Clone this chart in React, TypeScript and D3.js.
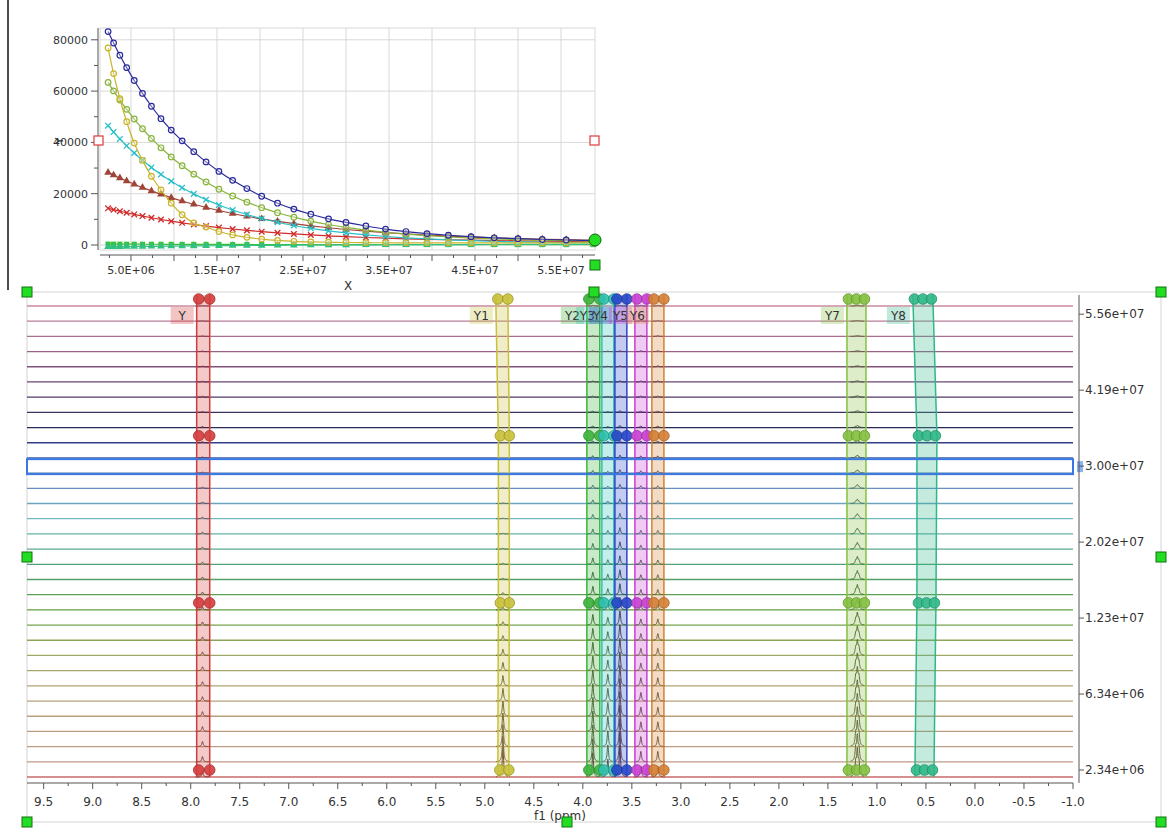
import React from 'react';
import * as d3 from 'd3';

// ---------- DATA ----------
const delays = [2.34e6, 2.98e6, 3.71e6, 4.5e6, 5.38e6, 6.34e6, 7.38e6, 8.49e6, 9.68e6, 10.95e6, 12.3e6, 13.73e6, 15.23e6, 16.82e6, 18.48e6, 20.2e6, 22.04e6, 23.94e6, 25.91e6, 27.97e6, 30.0e6, 32.31e6, 34.6e6, 36.97e6, 39.42e6, 41.9e6, 44.54e6, 47.23e6, 49.99e6, 52.82e6, 55.6e6, 58.74e6];

const rightTickRows = [0, 5, 10, 15, 20, 25, 30];
const rightTickLabels = ['2.34e+06', '6.34e+06', '1.23e+07', '2.02e+07', '3.00e+07', '4.19e+07', '5.56e+07'];

const seriesBlue = [83200, 78760, 73980, 69150, 64140, 59100, 54090, 49230, 44800, 40600, 36400, 32400, 28700, 25200, 22000, 19000, 16300, 14000, 12000, 10200, 8800, 7400, 6200, 5250, 4450, 3800, 3250, 2800, 2450, 2150, 1950, 1750];
const seriesYellow = [76800, 66820, 57020, 48060, 39730, 33000, 26800, 21500, 16300, 11800, 8600, 7000, 5260, 3940, 2980, 2300, 1800, 1450, 1225, 1070, 975, 900, 870, 850, 830, 820, 810, 810, 800, 800, 800, 800];
const seriesYellowGreen = [63400, 60070, 56510, 52880, 49120, 45320, 41560, 37890, 34320, 30890, 27620, 24570, 21730, 19100, 16700, 14550, 12580, 10840, 9320, 7980, 6860, 5810, 4960, 4230, 3620, 3120, 2690, 2340, 2060, 1830, 1660, 1500];
const seriesCyan = [46500, 44020, 41360, 38660, 35870, 33050, 30240, 27520, 24880, 22340, 19930, 17680, 15600, 13650, 11890, 10320, 8870, 7600, 6490, 5510, 4700, 3940, 3320, 2800, 2360, 2000, 1700, 1450, 1250, 1090, 960, 850];
const seriesBrown = [28300, 27250, 26110, 24930, 23680, 22390, 21080, 19760, 18450, 17150, 15870, 14630, 13440, 12290, 11200, 10180, 9210, 8310, 7480, 6720, 6050, 5390, 4810, 4300, 3840, 3440, 3080, 2770, 2490, 2260, 2060, 1880];
const seriesRed = [14300, 13760, 13170, 12570, 11930, 11280, 10610, 9940, 9280, 8630, 8000, 7380, 6790, 6230, 5700, 5200, 4730, 4300, 3910, 3550, 3230, 2920, 2660, 2420, 2220, 2040, 1870, 1740, 1620, 1510, 1430, 1350];
const seriesTeal = [-700, -680, -650, -620, -590, -560, -520, -480, -440, -400, -360, -320, -280, -240, -200, -160, -120, -80, -40, 0, 40, 70, 100, 120, 140, 160, 180, 200, 220, 240, 250, 260];
const seriesGreen = [350, 340, 330, 320, 310, 300, 290, 280, 270, 260, 250, 240, 230, 220, 210, 200, 200, 190, 190, 180, 180, 170, 170, 160, 160, 150, 150, 150, 140, 140, 140, 140];

const topXTicks = [5e6, 1.5e7, 2.5e7, 3.5e7, 4.5e7, 5.5e7];
const topYTicks = [0, 20000, 40000, 60000, 80000];
const ppmTicks = [9.5, 9.0, 8.5, 8.0, 7.5, 7.0, 6.5, 6.0, 5.5, 5.0, 4.5, 4.0, 3.5, 3.0, 2.5, 2.0, 1.5, 1.0, 0.5, 0.0, -0.5, -1.0];

// integral regions
const bandNames = ['Y', 'Y1', 'Y2', 'Y3', 'Y4', 'Y5', 'Y6', 'Y7', 'Y8'];
const bandColors = ['#d43c3c', '#c8c038', '#3cb43c', '#30c0b0', '#2846c8', '#c840d0', '#d48034', '#84c040', '#30b888'];
const handleRows = [31, 22, 11, 0];
const bandLeft = [
  [7.939, 7.939, 7.939, 7.939],
  [4.888, 4.862, 4.862, 4.867],
  [3.959, 3.959, 3.959, 3.959],
  [3.806, 3.806, 3.806, 3.806],
  [3.673, 3.673, 3.673, 3.673],
  [3.469, 3.469, 3.469, 3.469],
  [3.296, 3.296, 3.296, 3.296],
  [1.306, 1.306, 1.306, 1.306],
  [0.633, 0.592, 0.592, 0.612],
];
const bandRight = [
  [7.806, 7.806, 7.806, 7.806],
  [4.765, 4.75, 4.75, 4.755],
  [3.827, 3.827, 3.827, 3.827],
  [3.684, 3.684, 3.684, 3.684],
  [3.551, 3.551, 3.551, 3.551],
  [3.347, 3.347, 3.347, 3.347],
  [3.173, 3.173, 3.173, 3.173],
  [1.112, 1.112, 1.112, 1.112],
  [0.429, 0.388, 0.398, 0.418],
];
const bandHandleCount = [2, 2, 2, 2, 2, 2, 2, 3, 3];

// peaks in spectra
const peakCenters = [7.88, 4.815, 3.898, 3.745, 3.622, 3.408, 3.235, 1.2, 0.53];
const peakSeries = [seriesRed, seriesYellow, seriesYellowGreen, seriesCyan, seriesBlue, seriesBrown, seriesBrown, seriesYellowGreen, seriesTeal];
const peakOffsets = [[0], [0], [0], [0], [0], [0], [0], [-0.016, 0, 0.016], [0]];
const peakWeights = [[1], [1], [1], [1], [1], [1], [1], [0.55, 1, 0.55], [1]];

const topSeries = [
  { name: 'Y2', values: seriesGreen, color: '#3cc03c', marker: 'square' },
  { name: 'Y8', values: seriesTeal, color: '#30c080', marker: 'triangle' },
  { name: 'Y', values: seriesRed, color: '#d02a2a', marker: 'x' },
  { name: 'Y6', values: seriesBrown, color: '#a04438', marker: 'triangle' },
  { name: 'Y3', values: seriesCyan, color: '#28c0c8', marker: 'x' },
  { name: 'Y7', values: seriesYellowGreen, color: '#88b43c', marker: 'circle' },
  { name: 'Y1', values: seriesYellow, color: '#c8b42a', marker: 'circle' },
  { name: 'Y4', values: seriesBlue, color: '#2a2a9c', marker: 'circle' },
];

const rowColorDomain = [0, 1, 5, 8, 11, 14, 17, 19, 21, 23, 25, 28, 31];
const rowColorRange = ['#c86a6a', '#c09a88', '#b8a078', '#a0a868', '#60a040', '#50a078', '#70b8c0', '#6890c0', '#3858a8', '#2a2a5a', '#503868', '#9a6088', '#c88aa0'];

const FONT = 'DejaVu Sans, Verdana, sans-serif';

function fmtE(v: number) {
  const [m, e] = v.toExponential(1).split('e');
  return `${m}E${e[0]}${e.slice(1).padStart(2, '0')}`;
}

export default function App() {
  // ---------- top (inset) chart ----------
  const tx = d3.scaleLinear().domain([1.4e6, 5.895e7]).range([100, 595]);
  const ty = d3.scaleLinear().domain([-1950, 84600]).range([250, 28]);
  const gridX = d3.range(5e6, 5.6e7, 5e6);
  const minorX = d3.range(2.5e6, 5.9e7, 2.5e6);
  const minorY = d3.range(10000, 80001, 20000);
  const lineGen = d3.line<number>().x((_, i) => tx(delays[i])).y((v) => ty(v)).curve(d3.curveMonotoneX);
  const tri = d3.symbol().type(d3.symbolTriangle).size(26)() as string;
  const sq = d3.symbol().type(d3.symbolSquare).size(26)() as string;

  const marker = (m: string, color: string, x: number, y: number, key: string) => {
    if (m === 'circle')
      return <circle key={key} cx={x} cy={y} r={2.8} fill="white" fillOpacity={0.3} stroke={color} strokeWidth={1.2} />;
    if (m === 'x')
      return (
        <path key={key} d={`M${x - 2.8},${y - 2.8}L${x + 2.8},${y + 2.8}M${x - 2.8},${y + 2.8}L${x + 2.8},${y - 2.8}`} stroke={color} strokeWidth={1.3} />
      );
    if (m === 'triangle') return <path key={key} d={tri} transform={`translate(${x},${y})`} fill={color} />;
    return <path key={key} d={sq} transform={`translate(${x},${y})`} fill={color} />;
  };

  // ---------- main stacked spectra ----------
  const xp = d3.scaleLinear().domain([9.67, -1.0]).range([27, 1073]);
  const rowY = d3.scaleLinear().domain([0, 31]).range([777, 306]);
  const rowColor = d3.scaleLinear<string>().domain(rowColorDomain).range(rowColorRange).interpolate(d3.interpolateRgb);
  const handleOffset = 7;
  const bandTop = rowY(31) - 11;
  const bandBottom = rowY(0);
  const ampScale = 1 / 2600;
  const g = 0.008;
  const peakLine = d3.line<[number, number]>().x((d) => xp(d[0])).y((d) => d[1]);

  const rows = d3.range(delays.length);
  const peakPaths: JSX.Element[] = [];
  rows.forEach((r) => {
    const base = rowY(r);
    const col = d3.color(rowColor(r))!.darker(2.2).formatHex();
    peakCenters.forEach((c, b) => {
      const amp = peakSeries[b][r] * ampScale;
      if (amp < 0.4) return;
      const pts: [number, number][] = d3.range(c - 0.07, c + 0.0701, 0.0015).map((p) => {
        let h = 0;
        peakOffsets[b].forEach((o, k) => {
          const dd = p - c - o;
          h += peakWeights[b][k] * amp * (g * g) / (dd * dd + g * g);
        });
        return [p, base - h];
      });
      peakPaths.push(<path key={`pk${r}-${b}`} d={peakLine(pts) as string} fill="none" stroke={col} strokeWidth={1} />);
    });
  });

  const bandPoly = (b: number) => {
    const left: [number, number][] = [[xp(bandLeft[b][0]), bandTop]];
    handleRows.forEach((hr, k) => left.push([xp(bandLeft[b][k]), rowY(hr) - handleOffset]));
    left.push([xp(bandLeft[b][3]), bandBottom]);
    const right: [number, number][] = [[xp(bandRight[b][0]), bandTop]];
    handleRows.forEach((hr, k) => right.push([xp(bandRight[b][k]), rowY(hr) - handleOffset]));
    right.push([xp(bandRight[b][3]), bandBottom]);
    return { left, right };
  };
  const polyLine = d3.line<[number, number]>();

  const hlRow = 20;
  const handleSq = (x: number, y: number, key: string) => (
    <rect key={key} x={x - 5} y={y - 5} width={10} height={10} fill="#22dd22" stroke="#127012" strokeWidth={1} />
  );

  return (
    <svg width={1167} height={828} style={{ position: 'absolute', left: 0, top: 0, background: 'white' }} fontFamily={FONT}>
      {/* inset border line */}
      <line x1={8} x2={8} y1={0} y2={290} stroke="#111" strokeWidth={1.5} />

      {/* ===== top chart ===== */}
      <rect x={100} y={28} width={495} height={222} fill="white" stroke="#d8d8d8" />
      {gridX.map((v) => (
        <line key={`gx${v}`} x1={tx(v)} x2={tx(v)} y1={28} y2={250} stroke="#d8d8d8" />
      ))}
      {topYTicks.map((v) => (
        <line key={`gy${v}`} x1={100} x2={595} y1={ty(v)} y2={ty(v)} stroke="#d8d8d8" />
      ))}
      <line x1={98} x2={98} y1={28} y2={250} stroke="#555" />
      {topYTicks.map((v) => (
        <g key={`yt${v}`}>
          <line x1={91} x2={98} y1={ty(v)} y2={ty(v)} stroke="#555" />
          <text x={88} y={ty(v)} dy="0.35em" textAnchor="end" fontSize={11} fill="#333">{v}</text>
        </g>
      ))}
      {minorY.map((v) => (
        <line key={`ym${v}`} x1={94} x2={98} y1={ty(v)} y2={ty(v)} stroke="#555" />
      ))}
      <text transform="translate(63,141) rotate(-90)" textAnchor="middle" fontSize={11} fill="#333">Y</text>
      <line x1={100} x2={595} y1={255} y2={255} stroke="#555" />
      {minorX.map((v, i) => (
        <line key={`xm${v}`} x1={tx(v)} x2={tx(v)} y1={255} y2={i % 2 === 1 ? 261 : 258} stroke="#555" />
      ))}
      {topXTicks.map((v) => (
        <text key={`xt${v}`} x={tx(v)} y={274} textAnchor="middle" fontSize={11} fill="#333">{fmtE(v)}</text>
      ))}
      <text x={348} y={290} textAnchor="middle" fontSize={12} fill="#333">X</text>

      {topSeries.map((s) => (
        <g key={s.name}>
          <path d={lineGen(s.values) as string} fill="none" stroke={s.color} strokeWidth={1.2} />
          {s.values.map((v, i) => marker(s.marker, s.color, tx(delays[i]), ty(v), `${s.name}-${i}`))}
        </g>
      ))}
      <rect x={94} y={136} width={9} height={9} fill="white" stroke="#e03a3a" strokeWidth={1.2} />
      <rect x={590} y={136} width={9} height={9} fill="white" stroke="#e03a3a" strokeWidth={1.2} />
      <circle cx={595} cy={240} r={6} fill="#22dd22" stroke="#116011" strokeWidth={1} />
      {handleSq(595, 265, 'h-top')}

      {/* ===== main spectra ===== */}
      <rect x={27} y={292} width={1134} height={530} fill="none" stroke="#d4d4d4" strokeWidth={1} />
      {rows.map((r) => (
        <line key={`bl${r}`} x1={xp(9.67)} x2={xp(-1.0)} y1={rowY(r)} y2={rowY(r)} stroke={rowColor(r)} strokeWidth={1.3} />
      ))}
      {peakPaths}

      {bandNames.map((name, b) => {
        const { left, right } = bandPoly(b);
        const poly = left.concat(right.slice().reverse());
        const col = bandColors[b];
        return (
          <g key={`band${name}`}>
            <path d={(polyLine(poly) as string) + 'Z'} fill={col} fillOpacity={0.28} stroke="none" />
            <path d={polyLine(left) as string} fill="none" stroke={col} strokeWidth={1.5} />
            <path d={polyLine(right) as string} fill="none" stroke={col} strokeWidth={1.5} />
          </g>
        );
      })}

      {/* highlighted row */}
      <rect x={27} y={rowY(hlRow) - 14} width={1046} height={15} fill="none" stroke="#3a78e0" strokeWidth={2} />
      <rect x={1077} y={rowY(hlRow) - 12} width={6} height={11} fill="#8ab4f0" />

      {bandNames.map((name, b) => {
        const col = bandColors[b];
        const stroke = d3.color(col)!.darker(0.7).formatHex();
        const n = bandHandleCount[b];
        return (
          <g key={`hd${name}`}>
            {handleRows.map((hr, k) => {
              const l = xp(bandLeft[b][k]);
              const rr = xp(bandRight[b][k]);
              const xs = n === 3 ? [l + 1.5, (l + rr) / 2, rr - 1.5] : [l + 2, rr];
              return xs.map((x, j) => (
                <circle key={`c${k}-${j}`} cx={x} cy={rowY(hr) - handleOffset} r={5.3} fill={col} fillOpacity={0.9} stroke={stroke} strokeWidth={0.8} />
              ));
            })}
          </g>
        );
      })}

      {bandNames.map((name, b) => {
        const right = xp(bandLeft[b][0]) - 3;
        const w = 23;
        return (
          <g key={`lb${name}`}>
            <rect x={right - w} y={307} width={w} height={17} fill={bandColors[b]} fillOpacity={0.3} />
            <text x={right - w / 2} y={316} dy="0.35em" textAnchor="middle" fontSize={12} fill="#333">{name}</text>
          </g>
        );
      })}

      {/* bottom axis */}
      <line x1={27} x2={1073} y1={783} y2={783} stroke="#555" />
      {ppmTicks.map((v) => (
        <g key={`pt${v}`}>
          <line x1={xp(v)} x2={xp(v)} y1={783} y2={789} stroke="#555" />
          <text x={xp(v)} y={806} textAnchor="middle" fontSize={12} fill="#333">{v.toFixed(1)}</text>
        </g>
      ))}
      {ppmTicks.slice(0, -1).map((v) => (
        <line key={`pm${v}`} x1={xp(v - 0.25)} x2={xp(v - 0.25)} y1={783} y2={786} stroke="#555" />
      ))}
      <text x={560} y={820} textAnchor="middle" fontSize={12} fill="#333">f1 (ppm)</text>

      {/* right axis */}
      <line x1={1079} x2={1079} y1={295} y2={783} stroke="#555" />
      {rightTickRows.map((r, i) => (
        <g key={`rt${r}`}>
          <line x1={1079} x2={1084} y1={rowY(r) - handleOffset} y2={rowY(r) - handleOffset} stroke="#555" />
          <text x={1085} y={rowY(r) - handleOffset} dy="0.35em" fontSize={12} fill="#333">{rightTickLabels[i]}</text>
        </g>
      ))}

      {/* selection handles of the main chart frame */}
      {[
        [27, 292], [594, 292], [1161, 292], [27, 557], [1161, 557], [27, 822], [567, 822], [1161, 822],
      ].map(([x, y], i) => handleSq(x, y, `hs${i}`))}
    </svg>
  );
}
